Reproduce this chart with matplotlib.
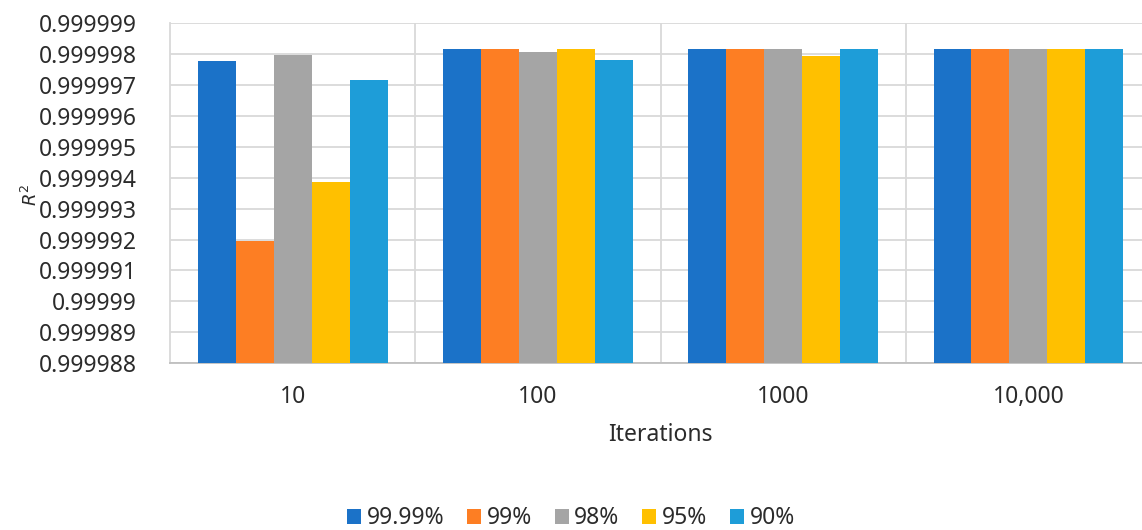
import numpy as np
import matplotlib
matplotlib.use('Agg')
import matplotlib.pyplot as plt
from matplotlib.ticker import FuncFormatter, FixedLocator

plt.rcParams['font.family'] = ['Noto Sans', 'DejaVu Sans']

iterations = ['10', '100', '1000', '10,000']
series = ['99.99%', '99%', '98%', '95%', '90%']
r2_9999 = [0.9999978, 0.99999816, 0.99999816, 0.99999816]
r2_99 = [0.99999196, 0.99999816, 0.99999816, 0.99999816]
r2_98 = [0.99999797, 0.99999809, 0.99999816, 0.99999816]
r2_95 = [0.99999386, 0.99999816, 0.99999795, 0.99999816]
r2_90 = [0.99999716, 0.99999781, 0.99999816, 0.99999816]
colors = ['#1b72c8', '#fd7e23', '#a5a5a5', '#ffc000', '#1e9dd8']

values = [r2_9999, r2_99, r2_98, r2_95, r2_90]
text_color = '#2b2b2b'
grid_color = '#d9d9d9'

fig = plt.figure(figsize=(11.42, 5.30), dpi=100)
ax = fig.add_axes([0.1489, 0.3151, 0.859, 0.6406])

x = np.arange(len(iterations))
bw = 0.1547
base = 0.999988
for i, (name, vals, c) in enumerate(zip(series, values, colors)):
    heights = [v - base for v in vals]
    ax.bar(x + (i - 2) * bw, heights, bw, bottom=base, color=c, label=name,
           zorder=3, linewidth=0)

ax.set_xlim(-0.5, 3.5)
ax.set_ylim(0.999988, 0.999999)
yt = [round(0.999988 + k * 1e-6, 6) for k in range(12)]
ax.yaxis.set_major_locator(FixedLocator(yt))
ax.yaxis.set_major_formatter(FuncFormatter(lambda v, p: f'{v:.6f}'.rstrip('0')))
ax.set_xticks(x)
ax.set_xticklabels(iterations)
ax.xaxis.set_minor_locator(FixedLocator([0.5, 1.5, 2.5]))

ax.grid(axis='y', which='major', color=grid_color, linewidth=1.3, zorder=0)
ax.grid(axis='x', which='minor', color=grid_color, linewidth=1.3, zorder=0)
ax.tick_params(axis='both', which='both', length=0, labelsize=16.5,
               labelcolor=text_color)
ax.tick_params(axis='y', pad=24)
ax.tick_params(axis='x', pad=16)
for s in ['top', 'right']:
    ax.spines[s].set_visible(False)
ax.spines['left'].set_color(grid_color)
ax.spines['left'].set_linewidth(1.3)
ax.spines['bottom'].set_color('#bfbfbf')
ax.spines['bottom'].set_linewidth(1.3)

ax.set_xlabel('Iterations', fontsize=16.5, color=text_color, labelpad=10)
fig.text(0.027, 0.632, '$R^2$', rotation=90, fontsize=13, color=text_color,
         ha='center', va='center')

handles, labels = ax.get_legend_handles_labels()
fig.legend(handles, labels, loc='center', bbox_to_anchor=(0.5, 0.022), ncol=5,
           frameon=False, fontsize=16.5, handlelength=0.6, handleheight=0.6,
           handletextpad=0.25, columnspacing=1.0, labelcolor=text_color)

fig.savefig('out.png', dpi=100)
